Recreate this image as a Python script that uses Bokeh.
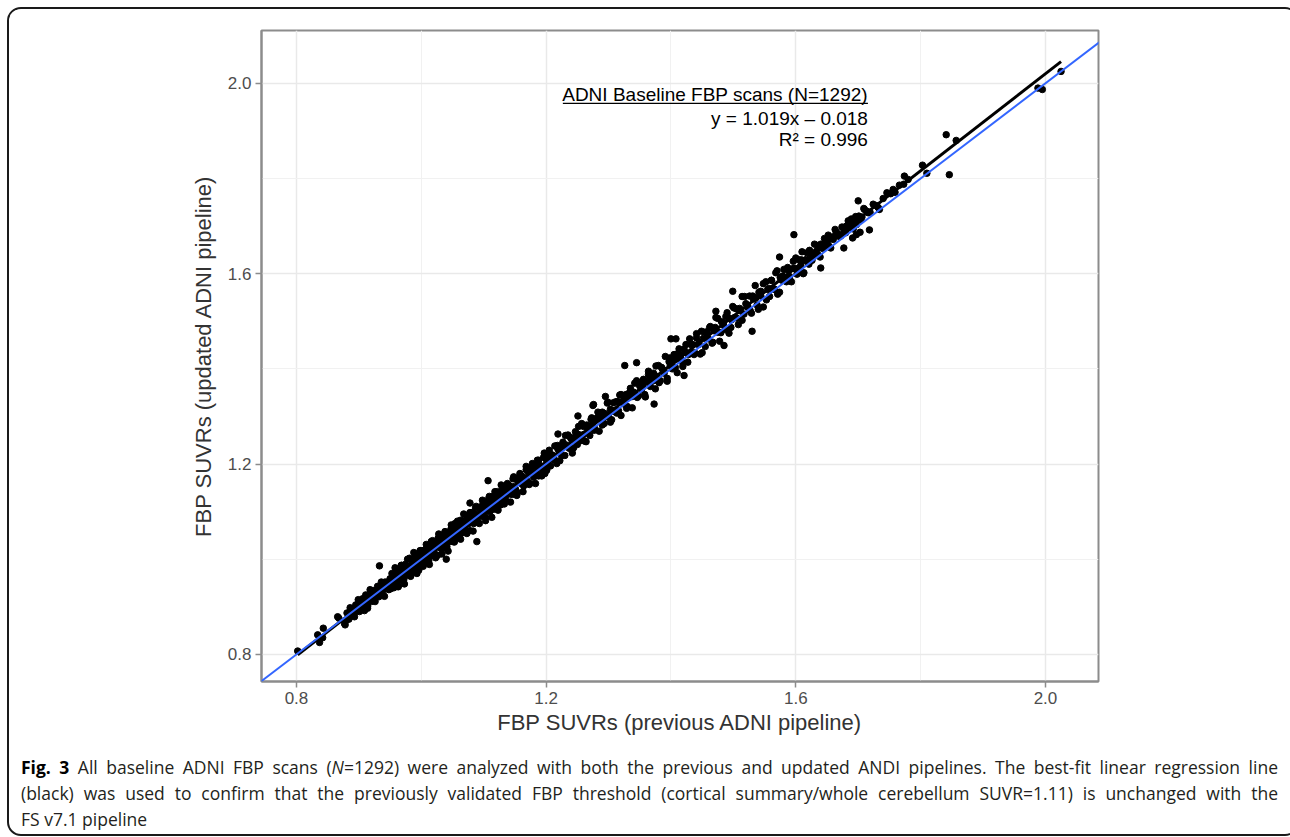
from bokeh.plotting import figure
from bokeh.models import Range1d, FixedTicker, PrintfTickFormatter, Label, Slope, Div
from bokeh.layouts import column
from bokeh.embed import file_html
from bokeh.resources import INLINE

# ---------------- data ----------------
# previous ADNI pipeline SUVR (x) / updated ADNI pipeline SUVR (y)
prev_low = [0.881, 0.884, 0.886, 0.889, 0.891, 0.893, 0.895, 0.897, 0.899, 0.901,
            0.903, 0.904, 0.906, 0.908, 0.909, 0.911, 0.912, 0.914, 0.915, 0.917,
            0.918, 0.920, 0.921, 0.923, 0.924, 0.926, 0.927, 0.929, 0.930, 0.932,
            0.933, 0.935, 0.936, 0.938, 0.939, 0.941, 0.942, 0.944, 0.946, 0.948]
upd_low = [0.887, 0.874, 0.898, 0.886, 0.892, 0.879, 0.904, 0.891, 0.915, 0.890,
           0.907, 0.903, 0.917, 0.900, 0.892, 0.925, 0.914, 0.901, 0.922, 0.913,
           0.936, 0.911, 0.926, 0.921, 0.934, 0.911, 0.930, 0.923, 0.943, 0.921,
           0.941, 0.934, 0.952, 0.930, 0.943, 0.922, 0.952, 0.940, 0.952, 0.936]

prev_neg = [0.950, 0.951, 0.952, 0.953, 0.954, 0.955, 0.956, 0.957, 0.959, 0.960,
            0.961, 0.962, 0.963, 0.965, 0.966, 0.967, 0.968, 0.969, 0.970, 0.972,
            0.973, 0.974, 0.975, 0.976, 0.978, 0.979, 0.980, 0.981, 0.982, 0.984,
            0.985, 0.986, 0.987, 0.988, 0.990, 0.991, 0.992, 0.993, 0.995, 0.996,
            0.997, 0.998, 0.999, 1.000, 1.002, 1.003, 1.004, 1.005, 1.007, 1.008,
            1.009, 1.010, 1.011, 1.012, 1.014, 1.015, 1.016, 1.017, 1.019, 1.020,
            1.021, 1.022, 1.023, 1.025, 1.026, 1.027, 1.028, 1.029, 1.031, 1.032,
            1.033, 1.034, 1.035, 1.037, 1.038, 1.039, 1.040, 1.041, 1.043, 1.044,
            1.045, 1.046, 1.048, 1.049, 1.050, 1.051, 1.052, 1.054, 1.055, 1.056,
            1.057, 1.058, 1.060, 1.061, 1.062, 1.063, 1.065, 1.066, 1.067, 1.068,
            1.070, 1.071, 1.072, 1.074, 1.075, 1.076, 1.078, 1.079, 1.080, 1.082,
            1.083, 1.084, 1.086, 1.087, 1.088, 1.090, 1.091, 1.093, 1.094, 1.096,
            1.097, 1.099, 1.100, 1.102, 1.103, 1.104, 1.106, 1.107, 1.109, 1.110,
            1.112, 1.113, 1.115, 1.116, 1.118, 1.119, 1.121, 1.122, 1.124, 1.126,
            1.127, 1.129, 1.130, 1.132, 1.134, 1.135, 1.137, 1.139, 1.140, 1.142,
            1.144, 1.146, 1.147, 1.149, 1.151, 1.153, 1.154, 1.156, 1.158, 1.160]
upd_neg = [0.959, 0.938, 0.954, 0.970, 0.948, 0.967, 0.940, 0.962, 0.957, 0.974,
           0.952, 0.969, 0.943, 0.976, 0.967, 0.955, 0.987, 0.965, 0.978, 0.957,
           0.976, 0.989, 0.968, 0.986, 0.967, 0.985, 0.979, 1.002, 0.965, 0.988,
           0.979, 0.998, 0.973, 0.990, 1.006, 0.982, 1.000, 0.990, 1.008, 0.977,
           1.004, 0.988, 1.018, 0.997, 1.013, 0.989, 1.008, 1.019, 1.000, 1.010,
           1.025, 1.004, 1.016, 0.997, 1.026, 1.014, 1.037, 1.008, 1.027, 1.016,
           1.034, 1.010, 1.026, 1.035, 1.008, 1.044, 1.025, 1.036, 1.023, 1.047,
           1.033, 1.046, 1.023, 1.044, 1.058, 1.033, 1.043, 1.026, 1.057, 1.041,
           1.054, 1.037, 1.065, 1.048, 1.061, 1.037, 1.058, 1.075, 1.049, 1.059,
           1.072, 1.054, 1.065, 1.045, 1.074, 1.082, 1.055, 1.074, 1.067, 1.081,
           1.063, 1.078, 1.059, 1.090, 1.074, 1.086, 1.060, 1.083, 1.098, 1.078,
           1.096, 1.075, 1.093, 1.108, 1.084, 1.094, 1.078, 1.109, 1.095, 1.107,
           1.090, 1.117, 1.099, 1.111, 1.088, 1.118, 1.111, 1.102, 1.132, 1.100,
           1.122, 1.111, 1.132, 1.105, 1.124, 1.132, 1.115, 1.142, 1.126, 1.134,
           1.114, 1.144, 1.127, 1.137, 1.153, 1.127, 1.148, 1.139, 1.156, 1.137,
           1.151, 1.136, 1.169, 1.153, 1.147, 1.167, 1.140, 1.165, 1.175, 1.159]

prev_edge = [0.958, 0.963, 0.968, 0.973, 0.978, 0.983, 0.988, 0.993, 0.998, 1.003,
             1.008, 1.013, 1.018, 1.023, 1.028, 1.033, 1.038, 1.043, 1.048, 1.053,
             1.058, 1.063, 1.068, 1.073, 1.078, 1.083, 1.088, 1.093, 1.098, 1.103,
             1.108, 1.113, 1.118, 1.123, 1.128, 1.133, 1.138, 1.143, 1.148, 1.153,
             1.158, 1.163, 1.168, 1.173, 1.178, 1.183, 1.188, 1.193, 1.197, 1.201]
upd_edge = [0.982, 0.942, 0.987, 0.948, 1.000, 0.964, 1.014, 0.970, 1.018, 0.985,
            1.031, 0.989, 1.039, 1.003, 1.053, 1.011, 1.056, 1.017, 1.072, 1.036,
            1.080, 1.042, 1.095, 1.054, 1.098, 1.059, 1.111, 1.075, 1.124, 1.081,
            1.127, 1.088, 1.142, 1.103, 1.156, 1.116, 1.159, 1.120, 1.173, 1.134,
            1.180, 1.142, 1.195, 1.157, 1.201, 1.159, 1.208, 1.175, 1.223, 1.187]

prev_mid = [1.162, 1.164, 1.166, 1.168, 1.170, 1.172, 1.174, 1.176, 1.178, 1.180,
            1.182, 1.184, 1.186, 1.188, 1.190, 1.192, 1.194, 1.196, 1.198, 1.200,
            1.203, 1.205, 1.207, 1.210, 1.212, 1.214, 1.217, 1.219, 1.222, 1.225,
            1.227, 1.230, 1.232, 1.235, 1.237, 1.240, 1.242, 1.245, 1.247, 1.250,
            1.252, 1.255, 1.257, 1.260, 1.262, 1.265, 1.267, 1.270, 1.272, 1.275,
            1.278, 1.280, 1.283, 1.285, 1.288, 1.290, 1.293, 1.295, 1.298, 1.300,
            1.303, 1.305, 1.308, 1.310, 1.313, 1.315, 1.318, 1.320, 1.322, 1.325,
            1.328, 1.330, 1.333, 1.335, 1.338, 1.340, 1.343, 1.345, 1.348, 1.350]
upd_mid = [1.174, 1.154, 1.169, 1.188, 1.164, 1.181, 1.159, 1.192, 1.179, 1.172,
           1.196, 1.181, 1.208, 1.175, 1.197, 1.194, 1.185, 1.214, 1.180, 1.210,
           1.207, 1.222, 1.196, 1.219, 1.209, 1.238, 1.201, 1.231, 1.223, 1.218,
           1.246, 1.218, 1.240, 1.261, 1.233, 1.253, 1.223, 1.250, 1.268, 1.241,
           1.262, 1.249, 1.285, 1.262, 1.248, 1.282, 1.273, 1.260, 1.294, 1.287,
           1.274, 1.295, 1.309, 1.269, 1.296, 1.309, 1.285, 1.299, 1.328, 1.299,
           1.315, 1.293, 1.329, 1.313, 1.307, 1.331, 1.345, 1.302, 1.331, 1.326,
           1.346, 1.321, 1.340, 1.359, 1.318, 1.351, 1.345, 1.375, 1.343, 1.364]

prev_pos = [1.353, 1.356, 1.358, 1.361, 1.364, 1.367, 1.369, 1.372, 1.375, 1.378,
            1.380, 1.383, 1.386, 1.389, 1.391, 1.394, 1.397, 1.399, 1.402, 1.405,
            1.408, 1.410, 1.413, 1.416, 1.419, 1.421, 1.424, 1.427, 1.430, 1.433,
            1.435, 1.438, 1.441, 1.444, 1.447, 1.449, 1.452, 1.455, 1.458, 1.460,
            1.463, 1.466, 1.469, 1.472, 1.475, 1.478, 1.481, 1.484, 1.487, 1.490,
            1.493, 1.496, 1.499, 1.502, 1.505, 1.508, 1.511, 1.514, 1.517, 1.520,
            1.523, 1.526, 1.529, 1.532, 1.535, 1.538, 1.541, 1.544, 1.548, 1.552,
            1.555, 1.558, 1.561, 1.565, 1.568, 1.571, 1.575, 1.578, 1.581, 1.585,
            1.588, 1.590, 1.593, 1.596, 1.599, 1.602, 1.605, 1.608, 1.610, 1.612]
upd_pos = [1.357, 1.378, 1.346, 1.374, 1.395, 1.363, 1.378, 1.391, 1.358, 1.384,
           1.407, 1.375, 1.400, 1.391, 1.426, 1.380, 1.415, 1.407, 1.400, 1.430,
           1.420, 1.392, 1.442, 1.421, 1.413, 1.441, 1.434, 1.414, 1.463, 1.434,
           1.451, 1.434, 1.465, 1.451, 1.431, 1.479, 1.464, 1.447, 1.478, 1.463,
           1.489, 1.454, 1.480, 1.508, 1.477, 1.458, 1.499, 1.492, 1.483, 1.518,
           1.507, 1.487, 1.531, 1.508, 1.526, 1.493, 1.522, 1.552, 1.515, 1.537,
           1.529, 1.553, 1.517, 1.547, 1.575, 1.534, 1.561, 1.553, 1.530, 1.583,
           1.567, 1.552, 1.586, 1.568, 1.602, 1.557, 1.592, 1.586, 1.609, 1.583,
           1.607, 1.594, 1.583, 1.626, 1.611, 1.599, 1.629, 1.617, 1.646, 1.600]

prev_pos2 = [1.201, 1.205, 1.209, 1.213, 1.218, 1.222, 1.226, 1.231, 1.235, 1.239,
             1.244, 1.248, 1.252, 1.256, 1.260, 1.264, 1.269, 1.273, 1.277, 1.282,
             1.286, 1.290, 1.294, 1.299, 1.303, 1.307, 1.312, 1.316, 1.320, 1.325,
             1.329, 1.333, 1.338, 1.342, 1.346, 1.351, 1.355, 1.359, 1.364, 1.368,
             1.372, 1.376, 1.381, 1.385, 1.389, 1.394, 1.398, 1.402, 1.407, 1.411,
             1.415, 1.419, 1.424, 1.428, 1.432, 1.437, 1.441, 1.445, 1.450, 1.454,
             1.458, 1.462, 1.467, 1.471, 1.475, 1.480, 1.484, 1.488, 1.493, 1.497,
             1.501, 1.505, 1.510, 1.514, 1.518, 1.523, 1.527, 1.531, 1.536, 1.540,
             1.544, 1.548, 1.553, 1.557, 1.561, 1.566, 1.570, 1.574, 1.579, 1.583,
             1.587, 1.591, 1.596, 1.600, 1.604, 1.609, 1.613, 1.617, 1.622, 1.626,
             1.630, 1.635, 1.639, 1.643, 1.648, 1.652, 1.656, 1.661, 1.665, 1.672,
             1.676, 1.680, 1.684, 1.688, 1.692, 1.696, 1.700, 1.704, 1.709, 1.716]
upd_pos2 = [1.192, 1.229, 1.217, 1.210, 1.239, 1.207, 1.240, 1.260, 1.236, 1.256,
            1.234, 1.260, 1.279, 1.254, 1.279, 1.247, 1.277, 1.297, 1.271, 1.297,
            1.307, 1.282, 1.306, 1.330, 1.288, 1.311, 1.331, 1.312, 1.346, 1.335,
            1.317, 1.349, 1.342, 1.370, 1.340, 1.371, 1.364, 1.341, 1.388, 1.381,
            1.375, 1.406, 1.371, 1.403, 1.396, 1.374, 1.423, 1.414, 1.403, 1.432,
            1.429, 1.405, 1.451, 1.430, 1.451, 1.430, 1.474, 1.455, 1.434, 1.477,
            1.466, 1.487, 1.456, 1.487, 1.506, 1.476, 1.497, 1.510, 1.475, 1.503,
            1.528, 1.507, 1.527, 1.502, 1.552, 1.532, 1.522, 1.553, 1.549, 1.525,
            1.563, 1.579, 1.545, 1.569, 1.586, 1.567, 1.606, 1.561, 1.595, 1.591,
            1.613, 1.585, 1.611, 1.633, 1.608, 1.629, 1.602, 1.630, 1.649, 1.628,
            1.642, 1.659, 1.635, 1.661, 1.657, 1.681, 1.654, 1.677, 1.687, 1.679,
            1.696, 1.686, 1.711, 1.701, 1.694, 1.720, 1.716, 1.713, 1.737, 1.728]

prev_high = [1.615, 1.618, 1.621, 1.624, 1.627, 1.630, 1.633, 1.636, 1.640, 1.643,
             1.646, 1.650, 1.653, 1.656, 1.660, 1.663, 1.667, 1.670, 1.674, 1.678,
             1.681, 1.685, 1.689, 1.693, 1.697, 1.701, 1.706, 1.710, 1.714, 1.719,
             1.724, 1.729, 1.734, 1.740, 1.746, 1.752, 1.759, 1.766, 1.773, 1.780]
upd_high = [1.627, 1.644, 1.620, 1.642, 1.635, 1.662, 1.647, 1.639, 1.662, 1.653,
            1.674, 1.666, 1.658, 1.677, 1.672, 1.693, 1.684, 1.678, 1.698, 1.692,
            1.700, 1.696, 1.715, 1.708, 1.703, 1.721, 1.719, 1.735, 1.731, 1.729,
            1.746, 1.743, 1.735, 1.758, 1.770, 1.768, 1.771, 1.786, 1.788, 1.798]

prev_extra = [0.802, 0.834, 0.837, 0.843, 0.842, 0.866, 0.868, 0.877, 0.878, 0.880,
              0.890, 0.896, 0.914, 0.933, 1.040, 1.078, 1.089, 1.107, 1.219, 1.251,
              1.275, 1.276, 1.295, 1.326, 1.345, 1.373, 1.400, 1.408, 1.421, 1.472,
              1.485, 1.499, 1.530, 1.574, 1.597, 1.640, 1.664, 1.677, 1.691, 1.697,
              1.700, 1.703, 1.718, 1.732, 1.756, 1.774, 1.803, 1.810, 1.841, 1.846,
              1.857, 1.988, 1.995, 2.025]
upd_extra = [0.807, 0.841, 0.825, 0.855, 0.835, 0.879, 0.876, 0.865, 0.862, 0.872,
             0.883, 0.894, 0.897, 0.986, 1.000, 1.118, 1.037, 1.165, 1.263, 1.301,
             1.323, 1.325, 1.342, 1.407, 1.413, 1.326, 1.463, 1.463, 1.386, 1.521,
             1.449, 1.563, 1.479, 1.635, 1.682, 1.612, 1.682, 1.654, 1.675, 1.682,
             1.753, 1.687, 1.692, 1.739, 1.777, 1.805, 1.828, 1.811, 1.892, 1.808,
             1.880, 1.990, 1.987, 2.025]

fit_slope = 1.019
fit_intercept = -0.018
fit_r2 = 0.996
n_scans = 1292

x_ticks = [0.8, 1.2, 1.6, 2.0]
x_minor = [1.0, 1.4, 1.8]
y_ticks = [0.8, 1.2, 1.6, 2.0]
y_minor = [1.0, 1.4, 1.8]

prev_all = prev_low + prev_neg + prev_edge + prev_mid + prev_pos + prev_pos2 + prev_high + prev_extra
upd_all = upd_low + upd_neg + upd_edge + upd_mid + upd_pos + upd_pos2 + upd_high + upd_extra

# ---------------- figure ----------------
GRID = "#e9e9e9"
AXIS = "#8c8c8c"

p = figure(width=1278, height=743,
           x_range=Range1d(0.744, 2.085), y_range=Range1d(0.743, 2.111),
           output_backend="svg", toolbar_location=None,
           min_border_left=252, min_border_right=189,
           min_border_top=21, min_border_bottom=71,
           background_fill_color="white", border_fill_color="white")

p.outline_line_color = AXIS
p.outline_line_width = 2

for ax, ticks, minor in ((p.xaxis[0], x_ticks, x_minor), (p.yaxis[0], y_ticks, y_minor)):
    ax.ticker = FixedTicker(ticks=ticks, minor_ticks=minor)
    ax.formatter = PrintfTickFormatter(format="%.1f")
    ax.axis_line_color = AXIS
    ax.axis_line_width = 2
    ax.major_tick_line_color = AXIS
    ax.major_tick_line_width = 1.5
    ax.major_tick_out = 6
    ax.major_tick_in = 0
    ax.minor_tick_line_color = None
    ax.major_label_text_font = "Liberation Sans"
    ax.major_label_text_font_size = "17px"
    ax.major_label_text_color = "#4d4d4d"
    ax.major_label_standoff = 4
    ax.axis_label_text_font = "Liberation Sans"
    ax.axis_label_text_font_size = "22px"
    ax.axis_label_text_font_style = "normal"
    ax.axis_label_text_color = "#333333"

p.xaxis.axis_label = "FBP SUVRs (previous ADNI pipeline)"
p.yaxis.axis_label = "FBP SUVRs (updated ADNI pipeline)"
p.xaxis.axis_label_standoff = 3
p.yaxis.axis_label_standoff = 9

for g in (p.xgrid[0], p.ygrid[0]):
    g.grid_line_color = GRID
    g.grid_line_width = 1.5
    g.minor_grid_line_color = "#f1f1f1"
    g.minor_grid_line_width = 1

p.scatter(prev_all, upd_all, size=6.5, color="black", line_color="black")

x_line = [min(prev_all), max(prev_all)]
y_line = [fit_slope * v + fit_intercept for v in x_line]
p.line(x_line, y_line, line_color="black", line_width=3)

p.add_layout(Slope(gradient=1, y_intercept=0, line_color="#3366FF", line_width=2))

# annotation block
annot_x = 1.7156
annot_font = "Liberation Sans"
lines = [(f"ADNI Baseline FBP scans (N={n_scans})", 1.9760),
         (f"y = {fit_slope:.3f}x \u2013 {abs(fit_intercept):.3f}", 1.9255),
         (f"R\u00b2 = {fit_r2:.3f}", 1.8814)]
for txt, yy in lines:
    p.add_layout(Label(x=annot_x, y=yy, text=txt, text_align="right",
                       text_baseline="middle", text_font=annot_font,
                       text_font_size="19px", text_color="black"))
underline_y = 1.9580
underline_x0 = 1.2268
p.segment(x0=[underline_x0], y0=[underline_y], x1=[annot_x], y1=[underline_y],
          line_color="black", line_width=1.3)

caption_html = (
    '<div style="font-family:\'Open Sans\', sans-serif;font-size:17.5px;line-height:26px;'
    'color:#231f20;padding:0 14px 0 7px;margin:0;width:1257px;">'
    '<div style="text-align:justify;text-align-last:justify;white-space:nowrap;">'
    '<b style="color:#000">Fig. 3</b> All baseline ADNI FBP scans (<i>N</i>=1292) were analyzed '
    'with both the previous and updated ANDI pipelines. The best-fit linear regression line</div>'
    '<div style="text-align:justify;text-align-last:justify;white-space:nowrap;">'
    '(black) was used to confirm that the previously validated FBP threshold (cortical '
    'summary/whole cerebellum SUVR=1.11) is unchanged with the</div>'
    '<div>FS v7.1 pipeline</div></div>'
)
caption = Div(text=caption_html, width=1278, height=79,
              styles={"overflow": "hidden", "margin-top": "2px"})

layout = column(p, caption, spacing=0, height=825,
                styles={"border": "2px solid #1a1a1a", "border-radius": "14px",
                        "overflow": "hidden", "background": "white",
                        "margin-left": "7px", "margin-top": "7px",
                        "box-sizing": "content-box"})

open("out.html", "w").write(file_html(layout, INLINE))
